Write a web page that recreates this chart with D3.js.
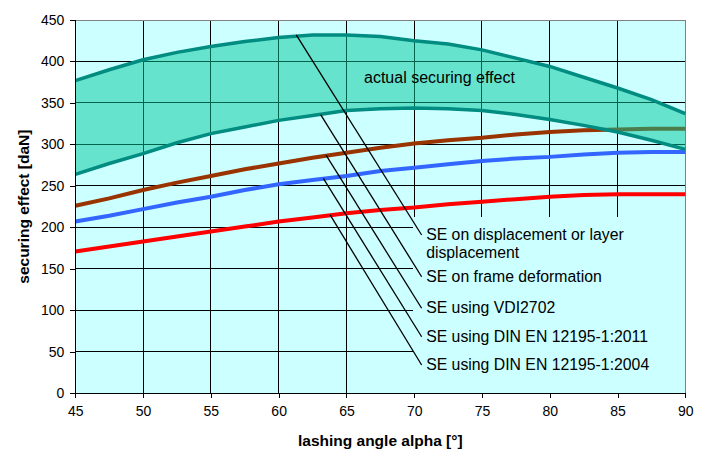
<!DOCTYPE html>
<html><head><meta charset="utf-8">
<script src="https://cdn.jsdelivr.net/npm/d3@7"></script>
<style>body{margin:0;background:#fff;}svg{display:block;font-family:"Liberation Sans",Arial,sans-serif;}</style>
</head><body><svg id="c" width="702" height="464"></svg>
<script>
const angles = [45,47.5,50,52.5,55,57.5,60,62.5,65,67.5,70,72.5,75,77.5,80,82.5,85,87.5,90];
const upperSE = [377,390,402,411,418,424,429,432,432,430,425,421,414,404,394,381,368,354,337];
const lowerSE = [264,277,289,302,313,321,329,335,341,343,344,343,341,336,330,323,315,305,294];
const vdiSE   = [226,235,245,254,262,270,277,284,290,296,301,305,308,312,315,317,318,319,319];
const din2011 = [207,214,222,230,237,245,252,257,262,268,272,276,280,283,285,288,290,291,291];
const din2004 = [171,177,183,189,195,201,207,212,217,221,224,228,231,234,237,239,240,240,240];
const xTicks = [45,50,55,60,65,70,75,80,85,90];
const yTicks = [0,50,100,150,200,250,300,350,400,450];
const labels = ["SE on displacement or layer|displacement","SE on frame deformation","SE using VDI2702","SE using DIN EN 12195-1:2011","SE using DIN EN 12195-1:2004"];
const leaderFrom = [[61.3,432],[63.1,336],[63.5,287],[63.3,259],[63.8,215]];
const leaderTo = [[70.55,190.8],[70.55,140.5],[70.55,102.5],[70.55,68.2],[70.55,34.1]];

const svg = d3.select("#c");
const L=75.3,R=685.3,T=20,B=393.3;
const x = d3.scaleLinear().domain([45,90]).range([L,R]);
const y = d3.scaleLinear().domain([0,450]).range([B,T]);
const bg="#CCFFFF";
svg.append("rect").attr("x",L).attr("y",T).attr("width",R-L).attr("height",B-T).attr("fill",bg);
// grid
svg.append("g").selectAll("line").data(yTicks.filter(d=>d>0&&d<450)).join("line")
 .attr("x1",L).attr("x2",R).attr("y1",d=>y(d)).attr("y2",d=>y(d)).attr("stroke","#000").attr("stroke-width",1).attr("shape-rendering","crispEdges");
svg.append("g").selectAll("line").data(xTicks.filter(d=>d>45&&d<90)).join("line")
 .attr("x1",d=>x(d)).attr("x2",d=>x(d)).attr("y1",T).attr("y2",B).attr("stroke","#000").attr("stroke-width",1).attr("shape-rendering","crispEdges");
// label box
svg.append("rect").attr("x",413).attr("y",217).attr("width",R-413).attr("height",B-217).attr("fill",bg);
// border
svg.append("path").attr("d",`M${L},${T}H${R}V${B}`).attr("fill","none").attr("stroke","#808080").attr("stroke-width",1).attr("shape-rendering","crispEdges");

const line = vals => d3.line().x((d,i)=>x(angles[i])).y(d=>y(d))(vals);
const series=[[din2004,"#FF0000"],[din2011,"#3366FF"],[vdiSE,"#993300"]];
series.forEach(([v,c])=>svg.append("path").attr("d",line(v)).attr("fill","none").attr("stroke",c).attr("stroke-width",4));
// band
const area = d3.area().x((d,i)=>x(angles[i])).y0((d,i)=>y(lowerSE[i])).y1(d=>y(d));
svg.append("path").attr("d",area(upperSE)).attr("fill","rgb(0,199,153)").attr("fill-opacity",0.5);
[upperSE,lowerSE].forEach(v=>svg.append("path").attr("d",line(v)).attr("fill","none").attr("stroke","#008C80").attr("stroke-width",3.5));

// axes
const xa = svg.append("g").attr("transform",`translate(0,${B})`).call(d3.axisBottom(x).tickValues(xTicks).tickSize(5).tickPadding(8));
const ya = svg.append("g").attr("transform",`translate(${L},0)`).call(d3.axisLeft(y).tickValues(yTicks).tickSize(5).tickPadding(6));
[xa,ya].forEach(a=>{a.selectAll("text").attr("font-size",14).attr("fill","#000").attr("font-family","Liberation Sans, Arial, sans-serif");a.selectAll("line,path").attr("stroke","#000").attr("shape-rendering","crispEdges");});
ya.select(".domain").attr("d",`M0,${B}V${T}`);
xa.select(".domain").attr("d",`M${L},0H${R}`);

// leaders
leaderFrom.forEach((f,i)=>svg.append("line").attr("x1",x(f[0])).attr("y1",y(f[1])).attr("x2",x(leaderTo[i][0])).attr("y2",y(leaderTo[i][1])).attr("stroke","#000").attr("stroke-width",1.3));
labels.forEach((t,i)=>{
  const parts=t.split("|");
  const tx=svg.append("text").attr("x",x(leaderTo[i][0])+4.5).attr("y",y(leaderTo[i][1])+1).attr("font-size",15.8).attr("dominant-baseline","middle").attr("fill","#000");
  parts.forEach((p,j)=>tx.append("tspan").attr("x",x(leaderTo[i][0])+4.5).attr("dy",j?18:0).text(p));
});
svg.append("text").attr("x",364).attr("y",78.5).attr("font-size",16).attr("dominant-baseline","middle").text("actual securing effect");
svg.append("text").attr("x",(L+R)/2).attr("y",446).attr("text-anchor","middle").attr("font-size",15.5).attr("font-weight","bold").text("lashing angle alpha [°]");
svg.append("text").attr("transform",`translate(29,${(T+B)/2}) rotate(-90)`).attr("text-anchor","middle").attr("font-size",15.5).attr("font-weight","bold").text("securing effect [daN]");
</script></body></html>
